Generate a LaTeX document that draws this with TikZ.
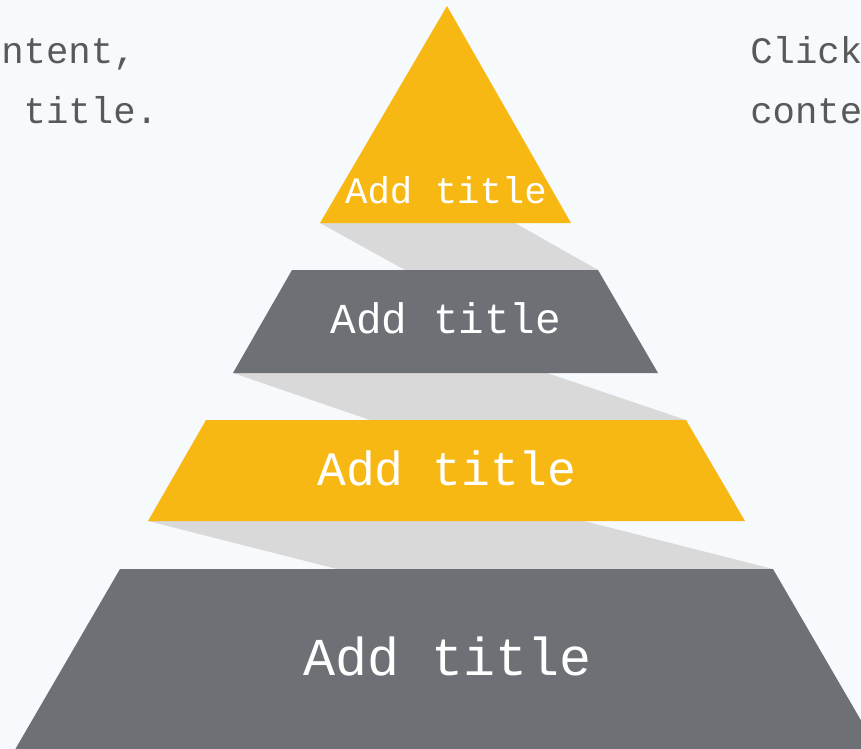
\documentclass[tikz,border=0pt]{standalone}
\usepackage{fontspec}
\setmonofont{Liberation Mono}
\begin{document}
\begin{tikzpicture}[x=0.75pt,y=-0.75pt,
  yellowpart/.style={fill=pyellow},
  graypart/.style={fill=pgray},
  shadowpart/.style={fill=pshadow},
  titletext/.style={text=white,inner sep=0pt,anchor=base,font=\ttfamily},
  sidetext/.style={text=sidegray,inner sep=0pt,anchor=base west,font=\ttfamily\fontsize{28}{34}\selectfont}]
\definecolor{pyellow}{HTML}{F8B814}
\definecolor{pgray}{HTML}{6D7075}
\definecolor{pshadow}{HTML}{D9D9D9}
\definecolor{bgc}{HTML}{F6FAFD}
\definecolor{sidegray}{HTML}{595959}
\useasboundingbox (0,0) rectangle (861,749);
\fill[bgc] (0,0) rectangle (861,749);
\clip (0,0) rectangle (861,749);
% shadows
\fill[shadowpart] (320,223) -- (515,223) -- (598,270) -- (405,270) -- cycle;
\fill[shadowpart] (233,373) -- (547,373) -- (686,420) -- (370,420) -- cycle;
\fill[shadowpart] (148,521) -- (584,521) -- (773,569) -- (337,569) -- cycle;
% layers
\fill[yellowpart] (447,6) -- (571,223) -- (320,223) -- cycle;
\fill[graypart] (292,270) -- (598,270) -- (658,373) -- (233,373) -- cycle;
\fill[yellowpart] (206,420) -- (686,420) -- (745,521) -- (148,521) -- cycle;
\fill[graypart] (120,569) -- (773,569) -- (884,760) -- (9,760) -- cycle;
% titles
\node[titletext,font=\ttfamily\fontsize{28}{34}\selectfont] (t1) at (446,203) {Add title};
\node[titletext,font=\ttfamily\fontsize{32}{38}\selectfont] (t2) at (446,333) {Add title};
\node[titletext,font=\ttfamily\fontsize{36}{43}\selectfont] (t3) at (447,485) {Add title};
\node[titletext,font=\ttfamily\fontsize{40}{48}\selectfont] (t4) at (448,675) {Add title};
% side texts
\node[sidetext] (l1) at (-447,64) {Click here to add content,};
\node[sidetext] (l2) at (-447,123) {content to match the title.};
\node[sidetext] (r1) at (750,64) {Click here to add content,};
\node[sidetext] (r2) at (750,123) {content to match the title.};
\end{tikzpicture}
\end{document}
